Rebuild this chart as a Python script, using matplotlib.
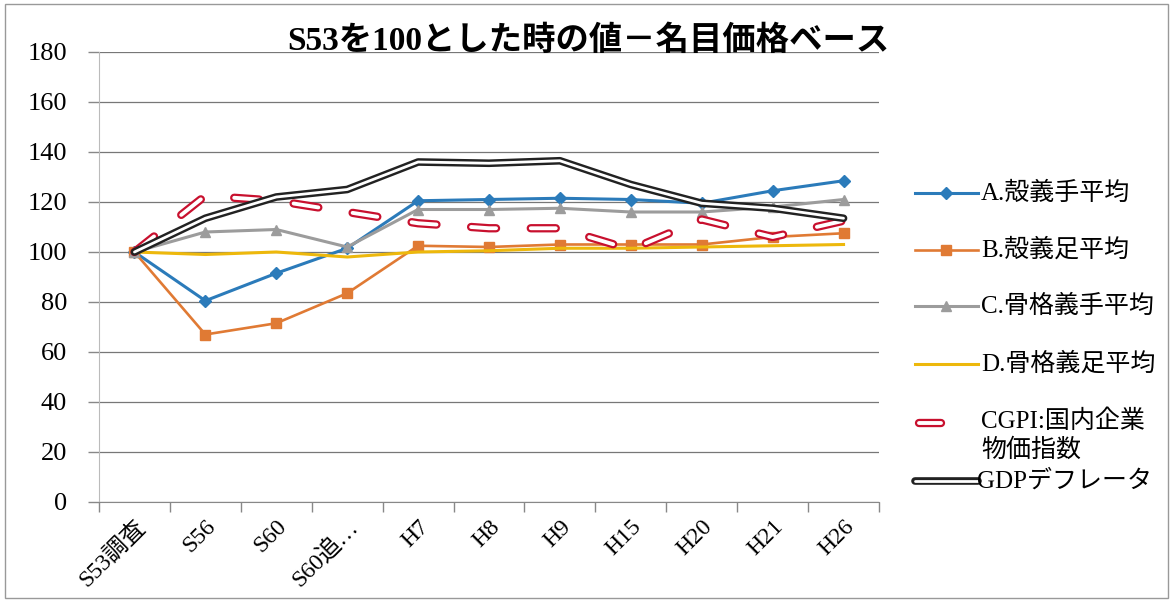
import matplotlib
matplotlib.use("Agg")
import matplotlib.pyplot as plt
from matplotlib.lines import Line2D
from matplotlib.patches import Rectangle
import numpy as np

plt.rcParams['font.family'] = ['Liberation Serif', 'Noto Sans CJK JP', 'DejaVu Sans']
plt.rcParams['lines.scale_dashes'] = False

# data (S53 = 100)
categories = ['S53調査', 'S56', 'S60', 'S60追…', 'H7', 'H8', 'H9', 'H15', 'H20', 'H21', 'H26']
a_hand = [100, 80.5, 91.5, 101.5, 120.5, 121, 121.5, 121, 119.5, 124.5, 128.5]
b_foot = [100, 67, 71.5, 83.5, 102.5, 102, 103, 103, 103, 106, 107.5]
c_hand = [100, 108, 109, 102, 117, 117, 117.5, 116, 116, 118, 121]
d_foot = [100, 99, 100, 98, 100, 100.5, 101.5, 101.5, 102, 102.5, 103]
cgpi = [100, 122.5, 120.5, 116, 111.5, 109.5, 109.5, 101, 113, 106, 112.5]
gdp = [100, 113.5, 122, 125, 136, 135.5, 136.5, 127, 119.5, 117.5, 113.5]

names = ['A.殻義手平均', 'B.殻義足平均', 'C.骨格義手平均', 'D.骨格義足平均',
         'CGPI:国内企業\n物価指数', 'GDPデフレータ']

BLUE = '#2B7BBA'
ORANGE = '#E07A34'
GRAY = '#9C9C9C'
YELLOW = '#EDB80C'
RED = '#C8102E'

fig = plt.figure(figsize=(11.72, 6.0), dpi=100)
ax = fig.add_axes([99 / 1172, 1 - 502 / 600, 780 / 1172, 450 / 600])
x = np.arange(len(categories))

ax.plot(x, a_hand, color=BLUE, lw=2.2, marker='D', ms=6, zorder=3)
ax.plot(x, b_foot, color=ORANGE, lw=1.9, marker='s', ms=7, zorder=3)
ax.plot(x, c_hand, color=GRAY, lw=2.2, marker='^', ms=7, zorder=3)
ax.plot(x, d_foot, color=YELLOW, lw=2.2, zorder=3)
dash = (0, (18, 25))
ax.plot(x, cgpi, color=RED, lw=6, ls=dash, dash_capstyle='round', zorder=4)
ax.plot(x, cgpi, color='white', lw=2.8, ls=dash, dash_capstyle='round', zorder=4)
ax.plot(x, gdp, color='#222222', lw=5.5, solid_joinstyle='round',
        solid_capstyle='round', zorder=5)
ax.plot(x, gdp, color='white', lw=2.0, solid_joinstyle='round',
        solid_capstyle='round', zorder=5)

ax.set_xlim(-0.5, len(categories) - 0.5)
ax.set_ylim(0, 180)
ax.set_yticks(np.arange(0, 181, 20))
ax.set_xticks(x)
ax.set_xticks(np.arange(-0.5, len(categories)), minor=True)
ax.set_xticklabels(categories, rotation=45, ha='right', va='top',
                   rotation_mode='anchor', fontsize=17)
ax.tick_params(axis='x', which='major', length=0, pad=10)
ax.tick_params(axis='x', which='minor', length=7, color='#888888', width=1)
ax.tick_params(axis='y', length=8, color='#888888', width=1, labelsize=19, pad=15)
ax.grid(axis='y', color='#777777', lw=0.9)
ax.set_axisbelow(True)
for s in ['top', 'right']:
    ax.spines[s].set_visible(False)
ax.spines['left'].set_color('#BBBBBB')
ax.spines['bottom'].set_color('#888888')

fig.text(0.502, 0.932, 'S53を100とした時の値－名目価格ベース', ha='center', va='center',
         fontsize=24, fontweight='bold')

# legend drawn by hand to match the uneven spacing of the original
x0, x1, xt = 915 / 1172, 978 / 1172, 981 / 1172
rows = [193, 250, 306, 364, 423, 481]
styles = [dict(color=BLUE, marker='D', ms=6, lw=2.2),
          dict(color=ORANGE, marker='s', ms=7, lw=1.9),
          dict(color=GRAY, marker='^', ms=7, lw=2.2),
          dict(color=YELLOW, marker=None, ms=0, lw=2.2)]
for yy, st, nm in zip(rows[:4], styles, names[:4]):
    yf = 1 - yy / 600
    fig.add_artist(Line2D([x0, x1], [yf, yf], transform=fig.transFigure,
                          color=st['color'], lw=st['lw']))
    if st['marker']:
        fig.add_artist(Line2D([(x0 + x1) / 2], [yf], transform=fig.transFigure,
                              ls='none', color=st['color'], marker=st['marker'],
                              ms=st['ms']))
    fig.text(xt, yf, nm, fontsize=18, va='center', ha='left')

yf = 1 - rows[4] / 600
fig.add_artist(Line2D([919 / 1172, 941 / 1172], [yf, yf], transform=fig.transFigure,
                      color=RED, lw=6, solid_capstyle='round'))
fig.add_artist(Line2D([919 / 1172, 941 / 1172], [yf, yf], transform=fig.transFigure,
                      color='white', lw=2.8, solid_capstyle='round'))
fig.text(xt, yf + 0.022, names[4], fontsize=18, va='top', ha='left', linespacing=1.3)

yf = 1 - rows[5] / 600
fig.add_artist(Line2D([x0, x1], [yf, yf], transform=fig.transFigure,
                      color='#222222', lw=5.5, solid_capstyle='round'))
fig.add_artist(Line2D([x0, x1], [yf, yf], transform=fig.transFigure,
                      color='white', lw=2.0, solid_capstyle='round'))
fig.text(xt - 0.003, yf, names[5], fontsize=18, va='center', ha='left')

fig.patches.append(Rectangle((0.004, 0.004), 0.993, 0.99, transform=fig.transFigure,
                             fill=False, ec='#999999', lw=1))

fig.savefig('out.png', dpi=100)
